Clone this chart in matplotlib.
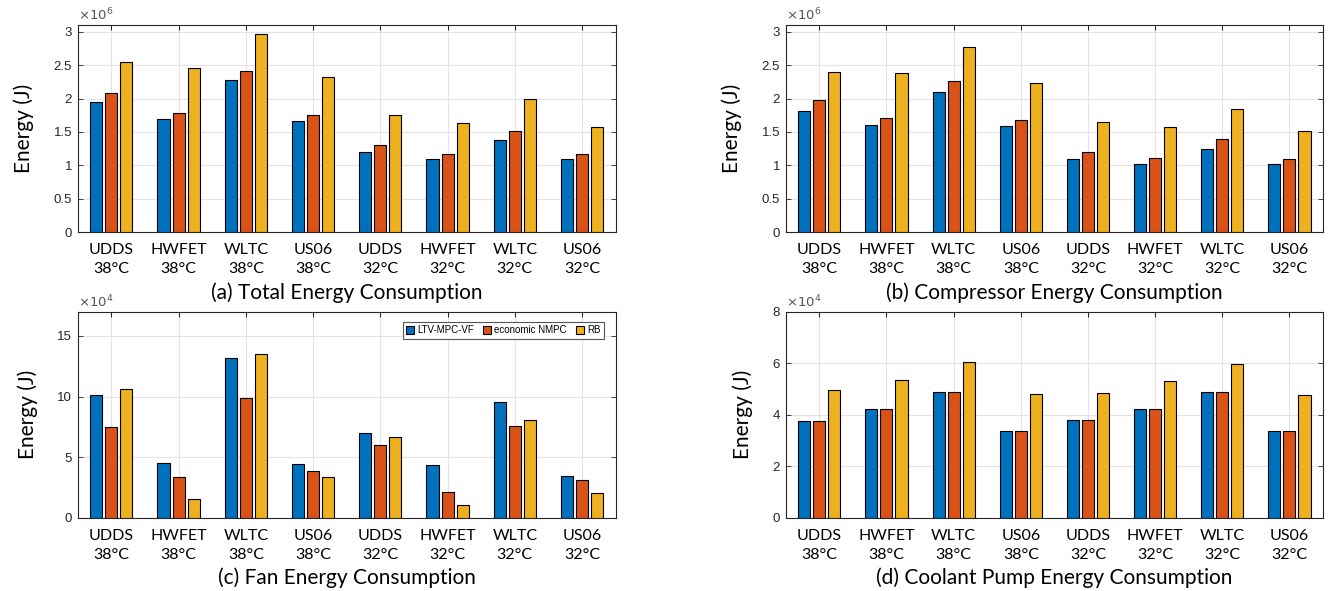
import matplotlib
matplotlib.use("Agg")
import matplotlib.pyplot as plt
import numpy as np

cycles = ["UDDS\n38°C", "HWFET\n38°C", "WLTC\n38°C", "US06\n38°C",
          "UDDS\n32°C", "HWFET\n32°C", "WLTC\n32°C", "US06\n32°C"]
series_names = ["LTV-MPC-VF", "economic NMPC", "RB"]
colors = ["#0072BD", "#D95319", "#EDB120"]

# (a) Total energy, x10^6 J
total_ltv = [1.95, 1.695, 2.28, 1.66, 1.20, 1.10, 1.385, 1.09]
total_nmpc = [2.09, 1.78, 2.415, 1.755, 1.30, 1.17, 1.51, 1.165]
total_rb = [2.55, 2.45, 2.965, 2.315, 1.76, 1.635, 1.99, 1.58]

# (b) Compressor energy, x10^6 J
comp_ltv = [1.81, 1.605, 2.10, 1.585, 1.09, 1.015, 1.245, 1.02]
comp_nmpc = [1.98, 1.71, 2.27, 1.685, 1.20, 1.11, 1.39, 1.10]
comp_rb = [2.395, 2.385, 2.765, 2.235, 1.65, 1.575, 1.85, 1.51]

# (c) Fan energy, x10^4 J
fan_ltv = [10.14, 4.48, 13.21, 4.40, 6.95, 4.31, 9.51, 3.41]
fan_nmpc = [7.47, 3.32, 9.84, 3.87, 5.99, 2.09, 7.53, 3.13]
fan_rb = [10.58, 1.51, 13.49, 3.38, 6.62, 1.04, 8.10, 2.06]

# (d) Coolant pump energy, x10^4 J
pump_ltv = [3.76, 4.22, 4.88, 3.35, 3.78, 4.22, 4.89, 3.35]
pump_nmpc = [3.76, 4.22, 4.89, 3.35, 3.78, 4.22, 4.89, 3.35]
pump_rb = [4.94, 5.36, 6.03, 4.81, 4.86, 5.30, 5.96, 4.77]

W, H = 1333, 591
fig = plt.figure(figsize=(W / 100, H / 100), dpi=100)

def px_axes(l, t, r, b):
    return fig.add_axes([l / W, 1 - b / H, (r - l) / W, (b - t) / H])

panels = [
    dict(box=(77.7, 25, 615.7, 232.3), data=(total_ltv, total_nmpc, total_rb),
         ylim=(0, 3.1), yticks=[0, 0.5, 1, 1.5, 2, 2.5, 3], ytl=["0", "0.5", "1", "1.5", "2", "2.5", "3"],
         exp="6", title="(a) Total Energy Consumption"),
    dict(box=(785.7, 25, 1323, 232.3), data=(comp_ltv, comp_nmpc, comp_rb),
         ylim=(0, 3.1), yticks=[0, 0.5, 1, 1.5, 2, 2.5, 3], ytl=["0", "0.5", "1", "1.5", "2", "2.5", "3"],
         exp="6", title="(b) Compressor Energy Consumption"),
    dict(box=(77.7, 311.7, 615.7, 517.7), data=(fan_ltv, fan_nmpc, fan_rb),
         ylim=(0, 17), yticks=[0, 5, 10, 15], ytl=["0", "5", "10", "15"],
         exp="4", title="(c) Fan Energy Consumption", legend=True),
    dict(box=(785.7, 311.7, 1323, 517.7), data=(pump_ltv, pump_nmpc, pump_rb),
         ylim=(0, 8), yticks=[0, 2, 4, 6, 8], ytl=["0", "2", "4", "6", "8"],
         exp="4", title="(d) Coolant Pump Energy Consumption"),
]

label_font = "Lato"
tick_font = "Liberation Sans"
axcol = "#262626"
x = np.arange(1, len(cycles) + 1)
offset = 0.224
width = 0.18

for p in panels:
    ax = px_axes(*p["box"])
    for i, (vals, c) in enumerate(zip(p["data"], colors)):
        ax.bar(x + (i - 1) * offset, vals, width=width, color=c,
               edgecolor="black", linewidth=0.8, label=series_names[i], zorder=3)
    ax.set_xlim(0.5, 8.5)
    ax.set_ylim(*p["ylim"])
    ax.set_xticks(x)
    ax.set_xticklabels(cycles, fontfamily=label_font, fontsize=11.5, linespacing=1.45)
    ax.set_yticks(p["yticks"])
    ax.set_yticklabels(p["ytl"], fontfamily=tick_font, fontsize=9.5, color=axcol)
    ax.tick_params(axis="both", direction="in", top=True, right=True, length=3.5,
                   width=0.6, color=axcol)
    ax.tick_params(axis="x", pad=8, colors="black")
    ax.tick_params(axis="y", pad=4, labelcolor=axcol)
    ax.grid(True, color="#e3e3e3", linewidth=0.8, zorder=0)
    ax.set_axisbelow(True)
    for s in ax.spines.values():
        s.set_color(axcol)
        s.set_linewidth(0.8)
    ax.set_ylabel("Energy (J)", fontfamily=label_font, fontsize=15, labelpad=14)
    ax.text(0.0, 1.008, r"$\times10^{%s}$" % p["exp"], transform=ax.transAxes,
            fontsize=9.5, color="#555555", ha="left", va="bottom",
            fontfamily=tick_font)
    ax.set_title(p["title"], fontfamily=label_font, fontsize=15, y=-0.36)
    if p.get("legend"):
        leg = ax.legend(loc="upper right", bbox_to_anchor=(0.978, 0.951),
                        borderaxespad=0, ncol=3, handlelength=0.8,
                        handleheight=0.9, handletextpad=0.3, columnspacing=1.0,
                        fancybox=False, edgecolor="#555555", framealpha=1,
                        borderpad=0.35, prop={"family": "Liberation Sans", "size": 7})
        leg.get_frame().set_linewidth(0.8)

fig.savefig("out.png", dpi=100)
